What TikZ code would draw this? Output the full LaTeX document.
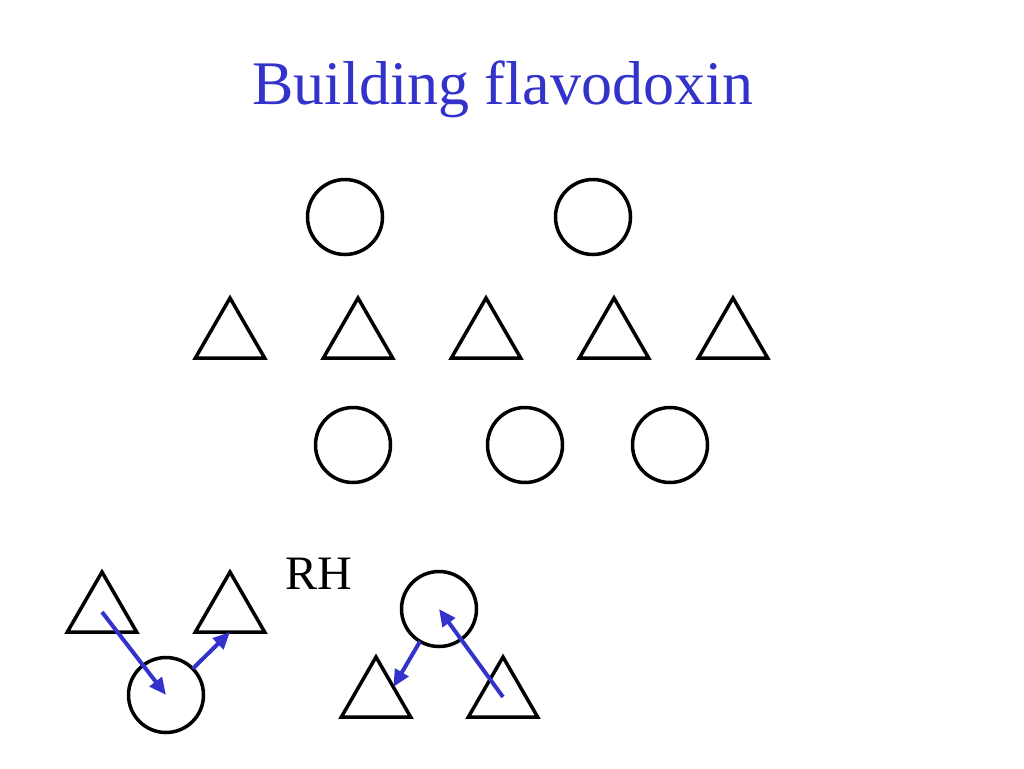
\documentclass[tikz,border=0pt]{standalone}
\usepackage{fontspec}
\setmainfont{Liberation Serif}
\usetikzlibrary{shapes.geometric,arrows.meta}
\definecolor{titleblue}{RGB}{51,51,204}
\tikzset{
  ring/.style={circle,draw=black,line width=3.5pt,minimum size=75pt,inner sep=0pt,outer sep=0pt},
  tri/.style={regular polygon,regular polygon sides=3,draw=black,line width=3.5pt,minimum size=80pt,inner sep=0pt,outer sep=0pt},
  bluearrow/.style={draw=titleblue,line width=4pt,-{Triangle[length=17pt,width=15pt]}}
}
\begin{document}
\begin{tikzpicture}[x=1pt,y=-1pt]
\useasboundingbox[fill=white] (0,0) rectangle (1024,768);
\node[anchor=base,text=titleblue,font=\fontsize{62}{70}\selectfont,inner sep=0pt] (title) at (503,104) {Building flavodoxin};
% row 1
\node[ring] (c1) at (345,217) {};
\node[ring] (c2) at (593,217) {};
% row 2
\node[tri] (t1) at (230,338) {};
\node[tri] (t2) at (358,338) {};
\node[tri] (t3) at (486,338) {};
\node[tri] (t4) at (614,338) {};
\node[tri] (t5) at (733,338) {};
% row 3
\node[ring] (c3) at (353,445) {};
\node[ring] (c4) at (525,445) {};
\node[ring] (c5) at (670,445) {};
% bottom left group
\node[tri] (ta) at (102,612) {};
\node[tri] (tb) at (230,612) {};
\node[ring] (cc) at (166,695) {};
\node[anchor=base west,font=\fontsize{48}{52}\selectfont,inner sep=0pt] (rh) at (285,589) {RH};
% bottom right group
\node[ring] (cd) at (439,609) {};
\node[tri] (te) at (376,697) {};
\node[tri] (tf) at (503,697) {};
% arrows
\draw[bluearrow] (ta.center) -- (cc.center);
\draw[bluearrow] (cc) -- (tb.side 2);
\draw[bluearrow] (cd) -- (te.side 3);
\draw[bluearrow] (tf.center) -- (cd.center);
\end{tikzpicture}
\end{document}
